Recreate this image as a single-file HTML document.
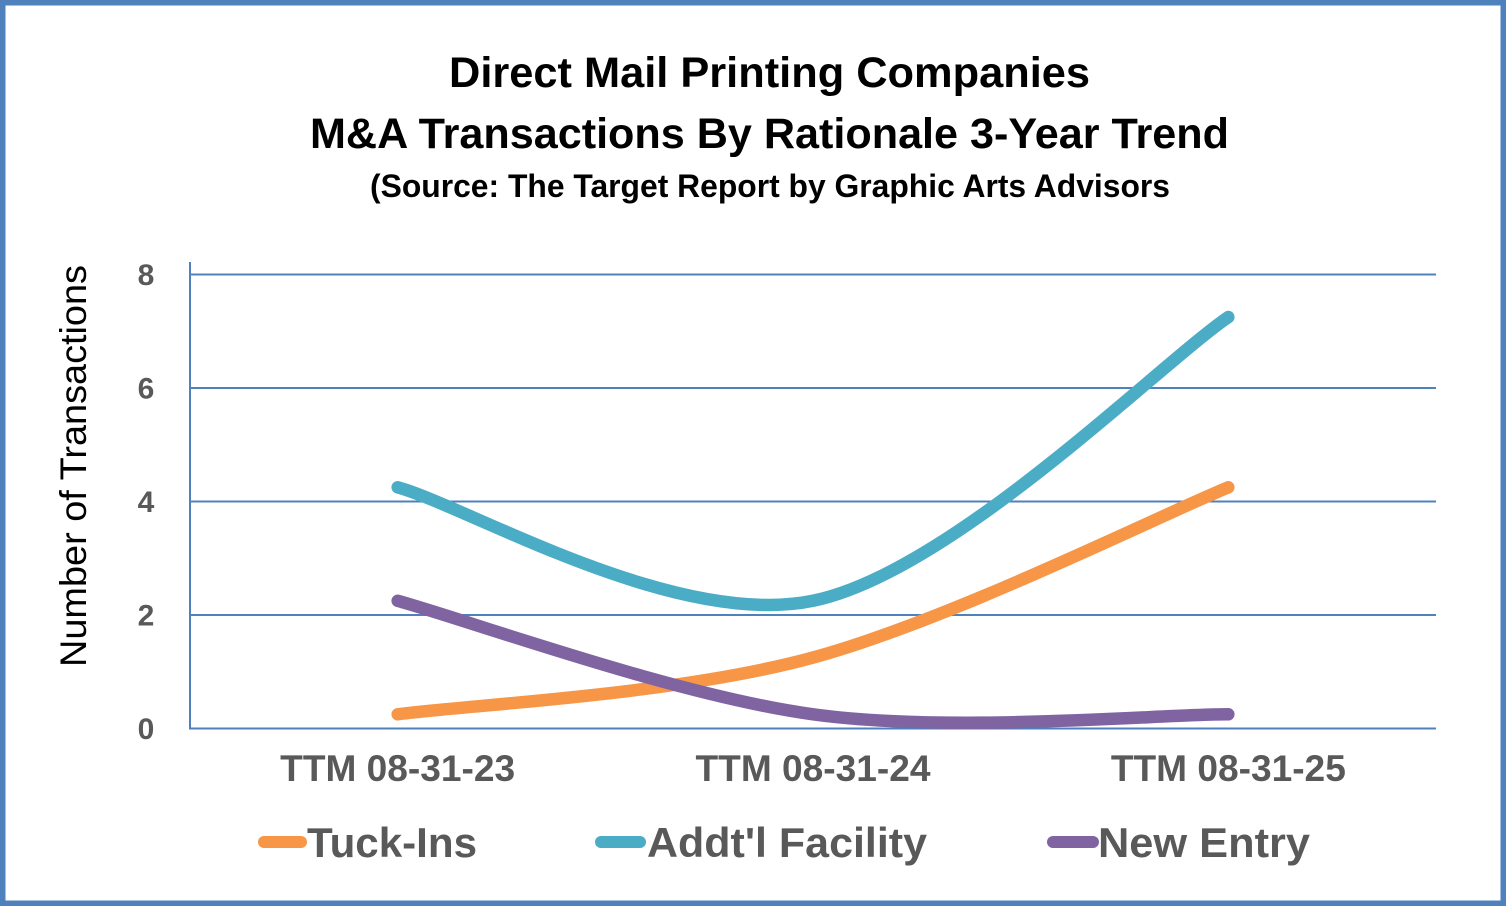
<!DOCTYPE html>
<html>
<head>
<meta charset="utf-8">
<style>
  html, body { margin: 0; padding: 0; background: #ffffff; }
  svg { display: block; }
  text { font-family: "Liberation Sans", Arial, sans-serif; }
</style>
</head>
<body>
<svg width="1506" height="906" viewBox="0 0 1506 906" xmlns="http://www.w3.org/2000/svg">
  <rect x="0" y="0" width="1506" height="906" fill="#ffffff"/>
  <rect x="2.75" y="2.75" width="1500.5" height="900.5" fill="none" stroke="#4F81BD" stroke-width="5.5"/>

  <!-- Title -->
  <text x="769.5" y="87" text-anchor="middle" font-size="43" font-weight="bold" fill="#000" textLength="641" lengthAdjust="spacingAndGlyphs">Direct Mail Printing Companies</text>
  <text x="769.5" y="148" text-anchor="middle" font-size="43" font-weight="bold" fill="#000" textLength="919" lengthAdjust="spacingAndGlyphs">M&amp;A Transactions By Rationale 3-Year Trend</text>
  <text x="770" y="197" text-anchor="middle" font-size="32" font-weight="bold" fill="#000" textLength="800" lengthAdjust="spacingAndGlyphs">(Source: The Target Report by Graphic Arts Advisors</text>

  <!-- Gridlines -->
  <g stroke="#4F81BD" stroke-width="2">
    <line x1="190" y1="274.5" x2="1436" y2="274.5"/>
    <line x1="190" y1="388" x2="1436" y2="388"/>
    <line x1="190" y1="501.5" x2="1436" y2="501.5"/>
    <line x1="190" y1="615" x2="1436" y2="615"/>
    <line x1="190" y1="728.5" x2="1436" y2="728.5"/>
    <line x1="190" y1="262" x2="190" y2="729.5"/>
  </g>

  <!-- Y tick labels -->
  <g font-size="30" font-weight="bold" fill="#595959" text-anchor="middle">
    <text x="146" y="285">8</text>
    <text x="146" y="398.5">6</text>
    <text x="146" y="512">4</text>
    <text x="146" y="625.5">2</text>
    <text x="146" y="739">0</text>
  </g>

  <!-- Y axis title -->
  <text transform="translate(86,466) rotate(-90)" text-anchor="middle" font-size="37" fill="#000" textLength="402" lengthAdjust="spacingAndGlyphs">Number of Transactions</text>

  <!-- X labels -->
  <g font-size="37" font-weight="bold" fill="#595959" text-anchor="middle">
    <text x="397.67" y="781" textLength="235" lengthAdjust="spacingAndGlyphs">TTM 08-31-23</text>
    <text x="813" y="781" textLength="235" lengthAdjust="spacingAndGlyphs">TTM 08-31-24</text>
    <text x="1228.33" y="781" textLength="235" lengthAdjust="spacingAndGlyphs">TTM 08-31-25</text>
  </g>

  <!-- Series -->
  <g fill="none" stroke-width="12.5" stroke-linecap="round" stroke-linejoin="round">
    <path stroke="#F79646" d="M397.67,714.31 C466.89,704.85 674.56,695.39 813,657.56 C951.44,619.73 1159.11,515.69 1228.33,487.31"/>
    <path stroke="#4BACC6" d="M397.67,487.31 C466.89,506.23 674.56,629.19 813,600.81 C951.44,572.44 1159.11,364.35 1228.33,317.06"/>
    <path stroke="#8064A2" d="M397.67,600.81 C466.89,619.73 674.56,695.39 813,714.31 C951.44,733.23 1159.11,714.31 1228.33,714.31"/>
  </g>

  <!-- Legend -->
  <g stroke-width="12" stroke-linecap="round">
    <line x1="264" y1="842" x2="301" y2="842" stroke="#F79646"/>
    <line x1="601" y1="842" x2="640" y2="842" stroke="#4BACC6"/>
    <line x1="1053" y1="842" x2="1093" y2="842" stroke="#8064A2"/>
  </g>
  <g font-size="42" font-weight="bold" fill="#595959">
    <text x="307" y="857" textLength="170" lengthAdjust="spacingAndGlyphs">Tuck-Ins</text>
    <text x="647" y="857" textLength="280" lengthAdjust="spacingAndGlyphs">Addt'l Facility</text>
    <text x="1098" y="857" textLength="212" lengthAdjust="spacingAndGlyphs">New Entry</text>
  </g>
</svg>
</body>
</html>
